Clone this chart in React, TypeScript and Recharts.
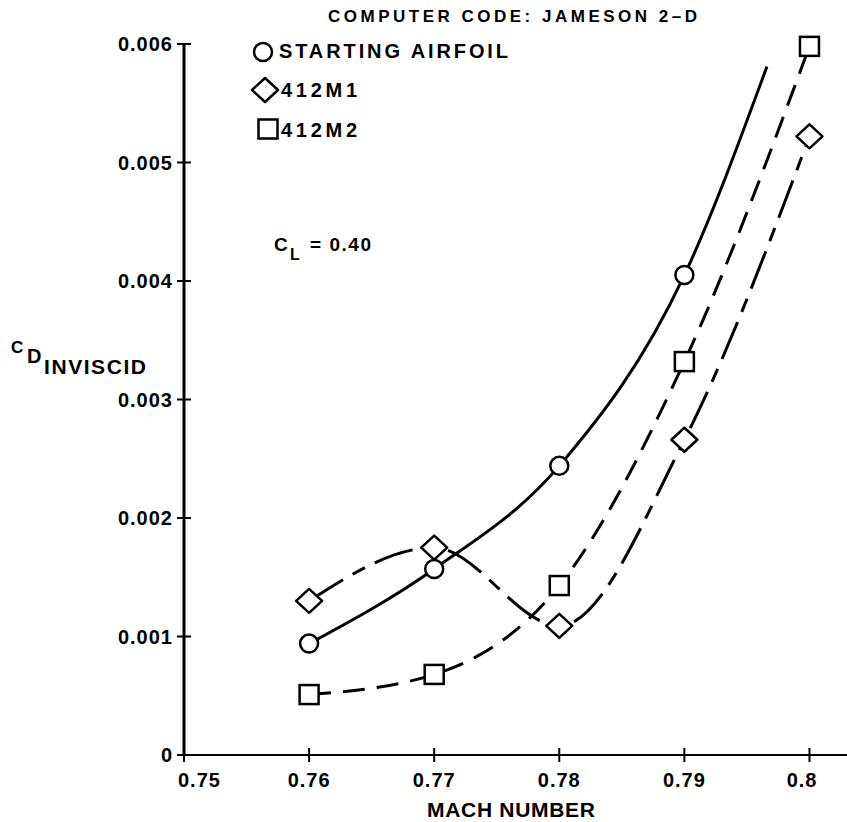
import { LineChart, Line, XAxis, YAxis } from "recharts"

// Mach number stations where the three airfoils were run
const MACH = [0.76, 0.77, 0.78, 0.79, 0.8]

// starting airfoil: the solid curve runs on past the last circle without a marker
const STARTING_MACH = [0.76, 0.77, 0.78, 0.79, 0.7966]
const STARTING_CD = [0.00094, 0.00157, 0.00244, 0.00405, 0.00581]
const STARTING_MARKED = [true, true, true, true, false]

const M1_CD = [0.0013, 0.00175, 0.00109, 0.00266, 0.00522]
const M2_CD = [0.00051, 0.00068, 0.00143, 0.00332, 0.00598]

const MACH_TICKS = [0.75, 0.76, 0.77, 0.78, 0.79, 0.8]
const MACH_LABELS = ["0.75", "0.76", "0.77", "0.78", "0.79", "0.8"]
const CD_TICKS = [0, 0.001, 0.002, 0.003, 0.004, 0.005, 0.006]
const CD_LABELS = ["0", "0.001", "0.002", "0.003", "0.004", "0.005", "0.006"]

const FONT = "'Liberation Sans', Arial, Helvetica, sans-serif"

const startingData = STARTING_MACH.map((x, i) => ({ x, y: STARTING_CD[i], marked: STARTING_MARKED[i] }))
const m1Data = MACH.map((x, i) => ({ x, y: M1_CD[i] }))
const m2Data = MACH.map((x, i) => ({ x, y: M2_CD[i] }))

function circle(cx: number, cy: number, key?: string | number) {
  return <circle key={key} cx={cx} cy={cy} r={9} fill="#fff" stroke="#000" strokeWidth={2.5} />
}

function diamond(cx: number, cy: number, key?: string | number) {
  const pts = `${cx},${cy - 12} ${cx + 13},${cy} ${cx},${cy + 12} ${cx - 13},${cy}`
  return <polygon key={key} points={pts} fill="#fff" stroke="#000" strokeWidth={2.5} strokeLinejoin="round" />
}

function square(cx: number, cy: number, key?: string | number) {
  return <rect key={key} x={cx - 9.5} y={cy - 9.5} width={19} height={19} fill="#fff" stroke="#000" strokeWidth={2.5} />
}

function XTick(props: any) {
  const { x, y, payload, index } = props
  const i = MACH_TICKS.indexOf(payload.value)
  let anchor: "middle" | "start" | "end" = "middle"
  let tx = x
  if (index === 0) {
    anchor = "start"
    tx = x - 6
  } else if (i === MACH_TICKS.length - 1) {
    anchor = "end"
    tx = x + 8
  }
  return (
    <g>
      <line x1={x} x2={x} y1={y - 7} y2={y + 7} stroke="#000" strokeWidth={2} />
      <text x={tx} y={y + 32} textAnchor={anchor} fontFamily={FONT} fontWeight="bold" fontSize={20} letterSpacing={1} fill="#000">
        {MACH_LABELS[i]}
      </text>
    </g>
  )
}

function YTick(props: any) {
  const { x, y, payload } = props
  const i = CD_TICKS.indexOf(payload.value)
  return (
    <g>
      <line x1={x - 7} x2={x + 7} y1={y} y2={y} stroke="#000" strokeWidth={2} />
      <text x={x - 11} y={y + 7} textAnchor="end" fontFamily={FONT} fontWeight="bold" fontSize={20} letterSpacing={1} fill="#000">
        {CD_LABELS[i]}
      </text>
    </g>
  )
}

export default function App() {
  return (
    <div style={{ position: "absolute", left: 0, top: 0, width: 847, height: 822, background: "#fff" }}>
      <LineChart width={847} height={822} margin={{ top: 44, right: 0, bottom: 0, left: 0 }}>
        <XAxis
          type="number"
          dataKey="x"
          domain={[0.75, 0.803]}
          ticks={MACH_TICKS}
          interval={0}
          height={67}
          axisLine={{ stroke: "#000", strokeWidth: 2 }}
          tickLine={false}
          tickSize={0}
          tickMargin={0}
          tick={(p: any) => <XTick {...p} />}
        />
        <YAxis
          type="number"
          dataKey="y"
          domain={[0, 0.006]}
          ticks={CD_TICKS}
          interval={0}
          width={184}
          axisLine={{ stroke: "#000", strokeWidth: 3 }}
          tickLine={false}
          tickSize={0}
          tickMargin={0}
          tick={(p: any) => <YTick {...p} />}
        />
        <Line
          data={m2Data}
          dataKey="y"
          type="monotone"
          stroke="#000"
          strokeWidth={3}
          strokeDasharray="22 12"
          isAnimationActive={false}
          activeDot={false}
          dot={(p: any) => square(p.cx, p.cy, "m2-" + p.index)}
        />
        <Line
          data={m1Data}
          dataKey="y"
          type="monotone"
          stroke="#000"
          strokeWidth={3}
          strokeDasharray="40 11 14 11"
          isAnimationActive={false}
          activeDot={false}
          dot={(p: any) => diamond(p.cx, p.cy, "m1-" + p.index)}
        />
        <Line
          data={startingData}
          dataKey="y"
          type="monotone"
          stroke="#000"
          strokeWidth={3}
          isAnimationActive={false}
          activeDot={false}
          dot={(p: any) =>
            p.payload.marked ? circle(p.cx, p.cy, "st-" + p.index) : <g key={"st-" + p.index} />
          }
        />
      </LineChart>

      <svg
        width={847}
        height={822}
        style={{ position: "absolute", left: 0, top: 0, pointerEvents: "none" }}
        fontFamily={FONT}
        fontWeight="bold"
        fill="#000"
      >
        <text x={328} y={22} fontSize={17} textLength={369} lengthAdjust="spacing">
          COMPUTER CODE:  JAMESON 2–D
        </text>

        {circle(263, 52)}
        <text x={279} y={58} fontSize={20} textLength={229} lengthAdjust="spacing">
          STARTING AIRFOIL
        </text>
        {diamond(265, 90)}
        <text x={281} y={97} fontSize={20} textLength={76} lengthAdjust="spacing">
          412M1
        </text>
        {square(268, 129)}
        <text x={281} y={137} fontSize={20} textLength={76} lengthAdjust="spacing">
          412M2
        </text>

        <text x={274} y={251} fontSize={19}>C</text>
        <text x={290} y={260} fontSize={16}>L</text>
        <text x={310} y={251} fontSize={19} textLength={61} lengthAdjust="spacing">
          = 0.40
        </text>

        <text x={11} y={353} fontSize={17}>C</text>
        <text x={27} y={363} fontSize={20}>D</text>
        <text x={44} y={374} fontSize={21} textLength={102} lengthAdjust="spacing">
          INVISCID
        </text>

        <text x={427} y={817} fontSize={21} textLength={168} lengthAdjust="spacing">
          MACH NUMBER
        </text>
      </svg>
    </div>
  )
}
